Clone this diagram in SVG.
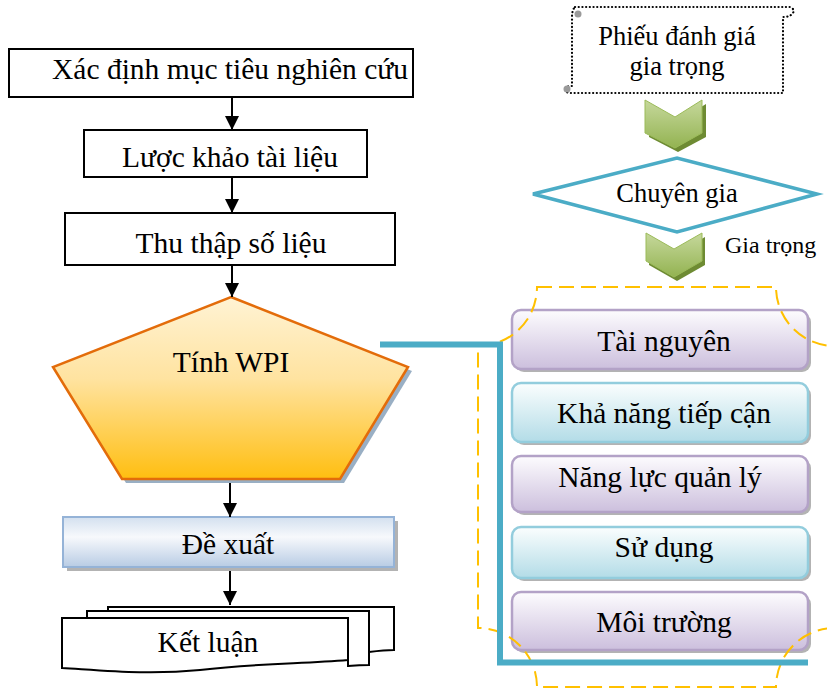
<svg xmlns="http://www.w3.org/2000/svg" width="827" height="689" viewBox="0 0 827 689">
  <style>
    .t { font-family: 'Liberation Serif', 'DejaVu Serif', serif; font-size: 29.5px; fill: #000; text-anchor: middle; }
    .t26 { font-size: 26.5px; }
    .box { fill: #fff; stroke: #000; stroke-width: 2; }
    .doc { fill: #fff; stroke: #000; stroke-width: 2; stroke-linejoin: miter; }
    .link { stroke: #000; stroke-width: 2; fill: none; }
    .purple { fill: url(#gPurple); stroke: #B3A2C7; stroke-width: 2.5; }
    .teal { fill: url(#gTeal); stroke: #93CDDD; stroke-width: 2.5; }
    .shade { fill: #9a9a9a; opacity: 0.75; }
    .chev { fill: url(#gGreen); stroke: #9BBB59; stroke-width: 1; }
    .chevShade { fill: #6E8B33; }
  </style>
  <defs>
    <marker id="arrow" markerUnits="userSpaceOnUse" markerWidth="14" markerHeight="16" refX="14" refY="7" orient="auto">
      <path d="M0,0 L14,7 L0,14 Z" fill="#000"/>
    </marker>
    <linearGradient id="gPurple" x1="0" y1="0" x2="0" y2="1">
      <stop offset="0" stop-color="#FDFCFE"/>
      <stop offset="1" stop-color="#CCBFDD"/>
    </linearGradient>
    <linearGradient id="gTeal" x1="0" y1="0" x2="0" y2="1">
      <stop offset="0" stop-color="#FBFEFE"/>
      <stop offset="1" stop-color="#B3DCE7"/>
    </linearGradient>
    <linearGradient id="gOrange" x1="0" y1="0" x2="0" y2="1">
      <stop offset="0" stop-color="#FFF3D4"/>
      <stop offset="0.45" stop-color="#FFE3A0"/>
      <stop offset="1" stop-color="#FFBE10"/>
    </linearGradient>
    <linearGradient id="gBlue" x1="0" y1="0" x2="0" y2="1">
      <stop offset="0" stop-color="#D3E0EF"/>
      <stop offset="0.4" stop-color="#F7F9FC"/>
      <stop offset="1" stop-color="#B8CCE4"/>
    </linearGradient>
    <linearGradient id="gGreen" x1="0" y1="0" x2="0" y2="1">
      <stop offset="0" stop-color="#C6D89C"/>
      <stop offset="1" stop-color="#93B351"/>
    </linearGradient>
  </defs>

  <!-- left process column -->
  <g id="n-muctieu">
    <rect class="box" x="9" y="49" width="404" height="48"/>
    <text class="t" x="230" y="79">Xác định mục tiêu nghiên cứu</text>
  </g>
  <g id="n-luockhao">
    <rect class="box" x="84" y="130" width="283" height="47"/>
    <text class="t" x="230" y="167">Lược khảo tài liệu</text>
  </g>
  <g id="n-thuthap">
    <rect class="box" x="65" y="213" width="330" height="52"/>
    <text class="t" x="231" y="253">Thu thập số liệu</text>
  </g>
  <g id="n-wpi">
    <polygon points="235,301 412,371 344,483 126,483 57,371" fill="#7F9BB5" opacity="0.8"/>
    <polygon points="231,297 408,367 340,479 122,479 53,367" fill="url(#gOrange)" stroke="#E36C0A" stroke-width="2.5" stroke-linejoin="miter"/>
    <text class="t" x="231" y="372">Tính WPI</text>
  </g>
  <g id="n-dexuat">
    <rect class="shade" x="67" y="521" width="331" height="50"/>
    <rect x="63" y="517" width="331" height="50" fill="url(#gBlue)" stroke="#95B3D7" stroke-width="2"/>
    <text class="t" x="228" y="554">Đề xuất</text>
  </g>
  <g id="n-ketluan">
    <path class="doc" d="M108,607 H394 V650 C385,650 377,651 369,652 V611 H108 Z"/>
    <path class="doc" d="M87,611 H369 V665 C361,665 354,665.5 348,666 V618 H87 Z"/>
    <path class="doc" d="M62,618 H348 V660 C300,664 260,663 200,670 C150,675 110,671 62,668 Z"/>
    <text class="t" x="208" y="652">Kết luận</text>
  </g>

  <!-- weighting column -->
  <g id="n-phieu">
    <path d="M575,7 H790 Q795,9 793,13 Q790,17 783,17 V93 H569 Q565,92 566,88 Q567,86 572,86 V17 Q572,10 575,7" fill="none" stroke="#000" stroke-width="2.2" stroke-dasharray="0.1 3.6" stroke-linecap="round"/>
    <circle cx="578" cy="14" r="3.5" fill="#9a9a9a"/>
    <circle cx="567" cy="89" r="3.5" fill="#9a9a9a"/>
    <text class="t t26" x="677" y="45">Phiếu đánh giá</text>
    <text class="t t26" x="677" y="75">gia trọng</text>
  </g>
  <g id="n-chev1">
    <polygon class="chevShade" points="649,104 678,121 706,104 706,137 678,152 649,137"/>
    <polygon class="chev" points="645,100 675,117 702,100 702,133 675,148 645,133"/>
  </g>
  <g id="n-chuyengia">
    <polygon points="533,194 677,158 817,194 677,232" fill="#fff" stroke="#4BACC6" stroke-width="3.5" stroke-linejoin="miter"/>
    <text class="t t26" x="677" y="202">Chuyên gia</text>
  </g>
  <g id="n-chev2">
    <polygon class="chevShade" points="649,237 677,253 705,237 705,265 677,281 649,265"/>
    <polygon class="chev" points="646,233 674,249 702,233 702,261 674,277 646,261"/>
    <text class="t" x="725" y="253" style="font-size:24px;text-anchor:start">Gia trọng</text>
  </g>

  <!-- criteria stack -->
  <g id="n-tainguyen">
    <rect class="shade" x="515" y="313" width="296" height="59" rx="9"/>
    <rect class="purple" x="512" y="310" width="296" height="59" rx="9"/>
    <text class="t" x="664" y="351">Tài nguyên</text>
  </g>
  <g id="n-tiepcan">
    <rect class="shade" x="515" y="386" width="296" height="59" rx="9"/>
    <rect class="teal" x="512" y="383" width="296" height="59" rx="9"/>
    <text class="t" x="664" y="423">Khả năng tiếp cận</text>
  </g>
  <g id="n-quanly">
    <rect class="shade" x="515" y="459" width="296" height="56" rx="9"/>
    <rect class="purple" x="512" y="456" width="296" height="56" rx="9"/>
    <text class="t" x="660" y="487">Năng lực quản lý</text>
  </g>
  <g id="n-sudung">
    <rect class="shade" x="515" y="530" width="296" height="51" rx="9"/>
    <rect class="teal" x="512" y="527" width="296" height="51" rx="9"/>
    <text class="t" x="664" y="557">Sử dụng</text>
  </g>
  <g id="n-moitruong">
    <rect class="shade" x="515" y="595" width="296" height="58" rx="9"/>
    <rect class="purple" x="512" y="592" width="296" height="58" rx="9"/>
    <text class="t" x="664" y="632">Môi trường</text>
  </g>
  <g id="n-nhom">
    <path d="M537,287 H776 A59,59 0 0 0 835,346 V628 A59,59 0 0 0 776,687 H537 A59,59 0 0 0 478,628 V346 A59,59 0 0 0 537,287 Z" fill="none" stroke="#FFC000" stroke-width="2" stroke-dasharray="15 7"/>
  </g>

  <!-- connectors -->
  <g id="connectors">
    <line class="link" x1="232" y1="97" x2="232" y2="130" marker-end="url(#arrow)"/>
    <line class="link" x1="232" y1="177" x2="232" y2="213" marker-end="url(#arrow)"/>
    <line class="link" x1="232" y1="265" x2="232" y2="297" marker-end="url(#arrow)"/>
    <line class="link" x1="230" y1="483" x2="230" y2="517" marker-end="url(#arrow)"/>
    <line class="link" x1="230" y1="571" x2="230" y2="605" marker-end="url(#arrow)"/>
    <path d="M380,344.5 H500 V662.5 H808" fill="none" stroke="#4BACC6" stroke-width="6" stroke-linejoin="miter"/>
  </g>
</svg>
